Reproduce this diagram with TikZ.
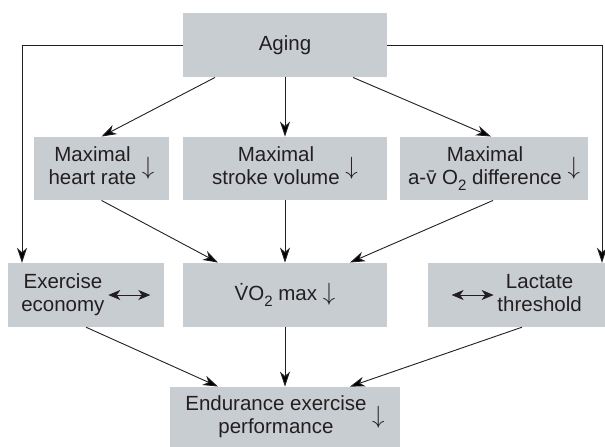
\documentclass[tikz,border=0pt]{standalone}
\usepackage{fontspec}
\setmainfont{Liberation Sans}
\usetikzlibrary{arrows.meta}

\definecolor{boxgray}{HTML}{C8CDD2}
\definecolor{ink}{HTML}{231F20}

% two centred lines of a box label
\newcommand{\twolines}[2]{\begin{tabular}{@{}c@{}}#1\\#2\end{tabular}}
% lowered subscript digit
\newcommand{\lowsub}[1]{\raisebox{-0.28em}{\fontsize{15}{15}\selectfont #1}}
% arrow marks put next to a label
\newcommand{\decr}{$\vcenter{\hbox{\fontsize{25}{25}\selectfont$\downarrow$}}$}
\newcommand{\nochg}{$\vcenter{\hbox{\tikz[x=1pt,y=1pt]\draw[line width=0.8pt,
    {Stealth[length=12pt,width=10pt,inset=3.5pt]}-{Stealth[length=12pt,width=10pt,inset=3.5pt]}]
    (0,0) -- (42,0);}}$}

\begin{document}
\begin{tikzpicture}[
            x = 1pt, y = -1pt, % pixel-like grid, y going down
            > = {Stealth[length=15pt, width=10pt, inset=4.5pt]}, % arrow head style
            line width = 0.9pt,
            draw = ink
        ]

        \tikzstyle{box}=[
            fill = boxgray,
            text = ink,
            inner sep = 0pt,
            font = \fontsize{20.5}{23}\selectfont
        ]

        \useasboundingbox (0,0) rectangle (605,447);

        \node (aging) [box, minimum width=204pt, minimum height=64pt] at (285,45) {Aging};

        \node (hr) [box, minimum width=135pt, minimum height=63pt] at (101.5,168.5)
            {\twolines{Maximal}{heart rate}\;\decr};
        \node (sv) [box, minimum width=204pt, minimum height=63pt] at (285,168.5)
            {\twolines{Maximal}{stroke volume}\;\decr};
        \node (av) [box, minimum width=188pt, minimum height=63pt] at (494,168.5)
            {\twolines{Maximal}{a-\={v} O\lowsub{2} difference}\;\decr};

        \node (ee) [box, minimum width=156pt, minimum height=64pt] at (86,295)
            {\twolines{Exercise}{economy}\,\nochg};
        \node (vo2) [box, minimum width=204pt, minimum height=64pt] at (285,295)
            {\.{V}O\lowsub{2} max\;{\fontsize{25}{25}\selectfont$\downarrow$}};
        \node (lt) [box, minimum width=177pt, minimum height=64pt] at (516.5,295)
            {\nochg\,\twolines{Lactate}{threshold}};

        \node (end) [box, minimum width=230pt, minimum height=60pt] at (285,417)
            {\twolines{Endurance exercise}{performance}\;\decr};

        % aging to the maximal values
        \path[->] ([xshift=-70pt]aging.south) edge (hr.north);
        \path[->] (aging) edge (sv);
        \path[->] ([xshift=68pt]aging.south) edge ([xshift=-3pt]av.north);

        % aging to economy and threshold
        \draw[->] (aging.west) -| ([xshift=-64pt]ee.north);
        \draw[->] (aging.east) -| ([xshift=85.5pt]lt.north);

        % maximal values to VO2 max
        \path[->] (hr.south) edge ([xshift=-67pt]vo2.north);
        \path[->] (sv) edge (vo2);
        \path[->] ([xshift=-1pt]av.south) edge ([xshift=65pt]vo2.north);

        % everything to performance
        \path[->] (ee.south) edge ([xshift=-67pt]end.north);
        \path[->] (vo2) edge (end);
        \path[->] ([xshift=5.5pt]lt.south) edge ([xshift=65pt]end.north);

    \end{tikzpicture}
\end{document}
